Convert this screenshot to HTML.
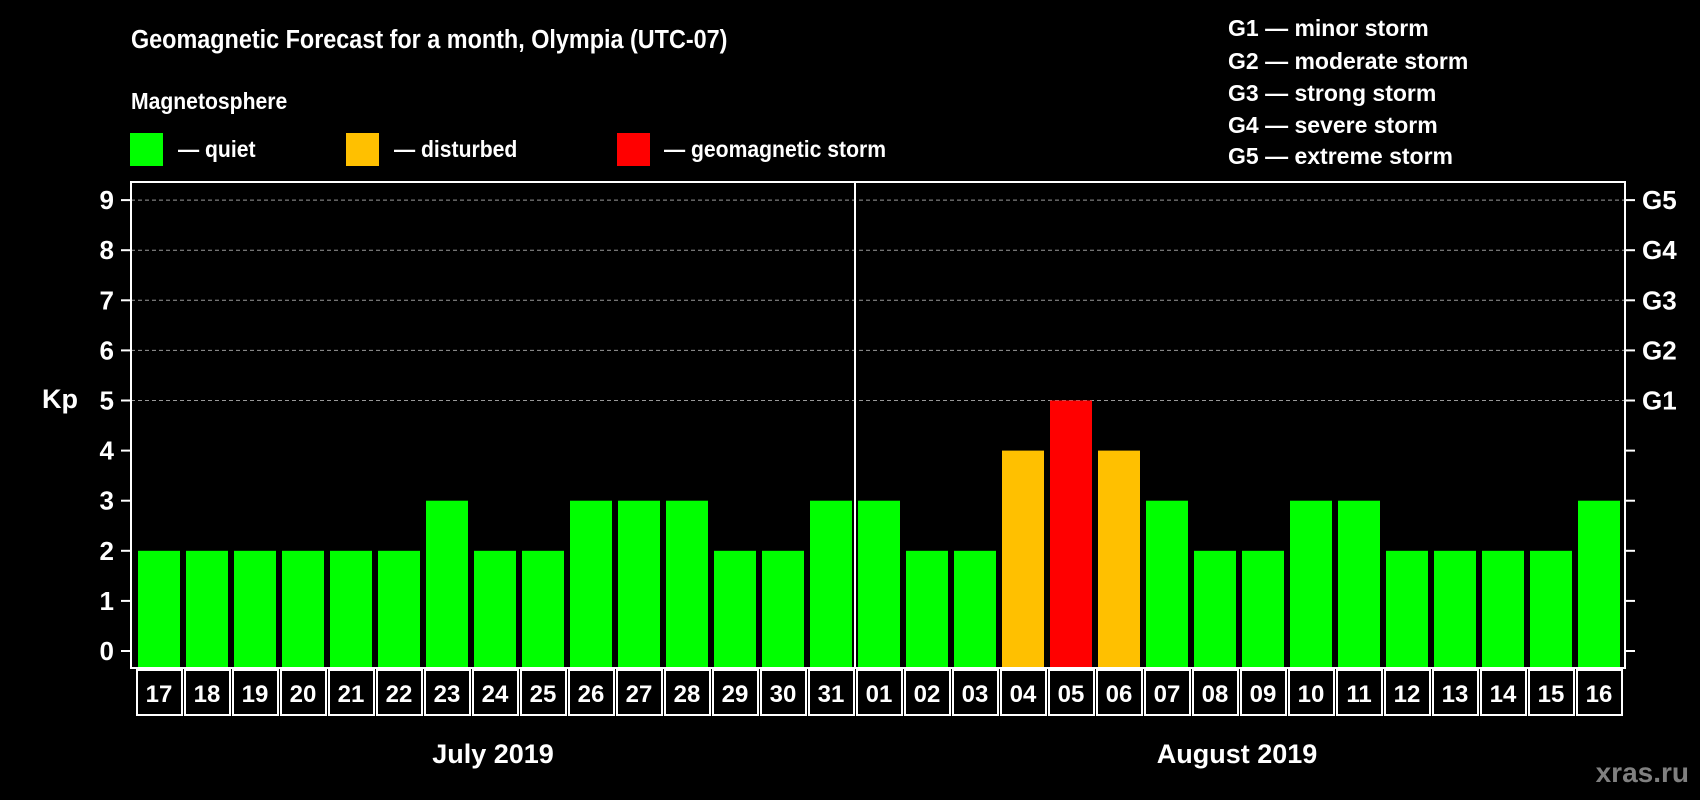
<!DOCTYPE html>
<html><head><meta charset="utf-8"><style>
html,body{margin:0;padding:0;background:#000;}
svg{display:block;}
text{font-family:"Liberation Sans",sans-serif;font-weight:bold;fill:#fff;}
</style></head><body>
<svg id="chart" width="1700" height="800" viewBox="0 0 1700 800">
<rect width="1700" height="800" fill="#000"/>
<text x="131" y="48" font-size="26" transform="translate(131 0) scale(0.9 1) translate(-131 0)">Geomagnetic Forecast for a month, Olympia (UTC-07)</text>
<text x="131" y="109" font-size="23" transform="translate(131 0) scale(0.92 1) translate(-131 0)">Magnetosphere</text>
<g><rect x="130" y="133" width="33" height="33" fill="#00ff00"/><text x="178" y="157" font-size="23" transform="translate(178 0) scale(0.92 1) translate(-178 0)">— quiet</text></g>
<g><rect x="346" y="133" width="33" height="33" fill="#ffc000"/><text x="394" y="157" font-size="23" transform="translate(394 0) scale(0.92 1) translate(-394 0)">— disturbed</text></g>
<g><rect x="617" y="133" width="33" height="33" fill="#ff0000"/><text x="664" y="157" font-size="23" transform="translate(664 0) scale(0.92 1) translate(-664 0)">— geomagnetic storm</text></g>
<g font-size="23">
<text x="1228" y="36">G1 — minor storm</text>
<text x="1228" y="69">G2 — moderate storm</text>
<text x="1228" y="101">G3 — strong storm</text>
<text x="1228" y="133">G4 — severe storm</text>
<text x="1228" y="164">G5 — extreme storm</text>
</g>
<text x="42" y="408" font-size="27">Kp</text>
<g id="grid"></g>
<g id="bars"></g>
<g id="axes"></g>
<g id="dates"></g>
<text x="493" y="763" font-size="27" text-anchor="middle">July 2019</text>
<text x="1237" y="763" font-size="27" text-anchor="middle">August 2019</text>
<text x="1689" y="782" font-size="28" text-anchor="end" style="fill:#808080">xras.ru</text>
</svg>
<script>
const days = ["17","18","19","20","21","22","23","24","25","26","27","28","29","30","31","01","02","03","04","05","06","07","08","09","10","11","12","13","14","15","16"];
const kpValues = [2,2,2,2,2,2,3,2,2,3,3,3,2,2,3,3,2,2,4,5,4,3,2,2,3,3,2,2,2,2,3];
const yTicks = [0,1,2,3,4,5,6,7,8,9];
const gLabels = ["","","","","","G1","G2","G3","G4","G5"];
const monthBreakIndex = 15;

const NS="http://www.w3.org/2000/svg";
const L=131,R=1625,T=182,B=668;
const y0=651, unit=50.1;
const yScale=v=>y0-v*unit;
const x0=138, pitch=48, bw=42;
const xScale=i=>x0+i*pitch;
function mk(tag,attrs,parent){const e=document.createElementNS(NS,tag);for(const k in attrs)e.setAttribute(k,attrs[k]);parent.appendChild(e);return e;}
const grid=document.getElementById('grid'),bars=document.getElementById('bars'),axes=document.getElementById('axes'),dates=document.getElementById('dates');
yTicks.forEach((v,i)=>{
  const y=yScale(v);
  if(v>=5){const g=mk('line',{x1:L,x2:R,y1:y,y2:y,stroke:'#9a9a9a','stroke-width':1,'stroke-dasharray':'4 3'},grid);
    
    }
  const t1=mk('line',{x1:L-10,x2:L,y1:y,y2:y,stroke:'#fff','stroke-width':2},axes);
  
  
  const t2=mk('line',{x1:R,x2:R+10,y1:y,y2:y,stroke:'#fff','stroke-width':2},axes);
  
  
  const lb=mk('text',{x:114,y:y+9,'font-size':26,'text-anchor':'end'},axes);lb.textContent=v;
  
  
  if(gLabels[i]){const g=mk('text',{x:1642,y:y+9,'font-size':26},axes);g.textContent=gLabels[i];
    
    }
});
kpValues.forEach((v,i)=>{
  const c=v>=5?'#ff0000':(v>=4?'#ffc000':'#00ff00');
  const r=mk('rect',{x:xScale(i),y:yScale(v),width:bw,height:B-yScale(v),fill:c},bars);
  
  
  const bx=mk('rect',{x:xScale(i)-1,y:670,width:45,height:45,fill:'none',stroke:'#fff','stroke-width':2},dates);
  
  
  const t=mk('text',{x:xScale(i)+bw/2,y:702,'font-size':24,'text-anchor':'middle'},dates);t.textContent=days[i];
  
  
});
const fr=mk('rect',{x:L,y:T,width:R-L,height:B-T,fill:'none',stroke:'#fff','stroke-width':2},axes);


const mx=xScale(monthBreakIndex)-3;
const ml=mk('line',{x1:mx,x2:mx,y1:T,y2:B,stroke:'#fff','stroke-width':2},axes);


</script>
</body></html>
